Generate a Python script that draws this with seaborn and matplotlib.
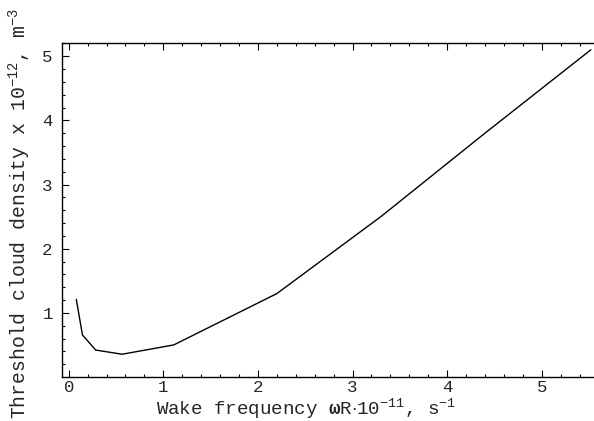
import matplotlib
matplotlib.use("Agg")
import matplotlib.pyplot as plt
from matplotlib.ticker import MultipleLocator
import seaborn as sns
import pandas as pd

# wake frequency (x 1e11 s^-1) and threshold cloud density (x 1e12 m^-3)
wake_freq = [0.08, 0.145, 0.285, 0.565, 1.11, 2.2, 3.3, 4.4, 5.52]
threshold_density = [1.21, 0.655, 0.42, 0.355, 0.50, 1.30, 2.50, 3.80, 5.10]

x_ticks = [0, 1, 2, 3, 4, 5]
y_ticks = [1, 2, 3, 4, 5]

sns.set_style("ticks")
plt.rcParams["font.family"] = ["Liberation Mono", "DejaVu Sans"]
plt.rcParams["mathtext.fontset"] = "custom"
plt.rcParams["mathtext.rm"] = "Liberation Mono"
plt.rcParams["mathtext.bf"] = "Liberation Mono:bold"
plt.rcParams["mathtext.it"] = "Liberation Mono"

df = pd.DataFrame({"freq": wake_freq, "density": threshold_density})

fig = plt.figure(figsize=(5.94, 4.21), dpi=100)
ax = fig.add_axes([0.1049, 0.1045, 0.8951, 0.7925])

sns.lineplot(data=df, x="freq", y="density", ax=ax, color="black",
             linewidth=1.0, sort=False)

ax.set_xlim(-0.068, 5.553)
ax.set_ylim(0.0, 5.2)
ax.set_xticks(x_ticks)
ax.set_yticks(y_ticks)
ax.xaxis.set_minor_locator(MultipleLocator(0.2))
ax.yaxis.set_minor_locator(MultipleLocator(0.2))

ax.tick_params(which="both", direction="in", top=True, right=False,
               labelsize=12.5, width=0.8, color="black")
ax.tick_params(which="major", length=5)
ax.tick_params(which="minor", length=2.5)
ax.tick_params(axis="x", pad=2)
ax.tick_params(axis="y", pad=7)

for side in ["left", "bottom", "top"]:
    ax.spines[side].set_linewidth(1.0)
    ax.spines[side].set_color("black")
ax.spines["right"].set_visible(False)

ax.set_xlabel(r"Wake frequency $\mathbf{ω}$R$\cdot$10$^{-11}$, s$^{-1}$",
              fontsize=13.8)
ax.xaxis.set_label_coords(0.459, -0.058)
ax.set_ylabel(r"Threshold cloud density x 10$^{-12}$, m$^{-3}$", fontsize=14.2)
ax.yaxis.set_label_coords(-0.056, 0.49)

fig.savefig("out.png", dpi=100)
